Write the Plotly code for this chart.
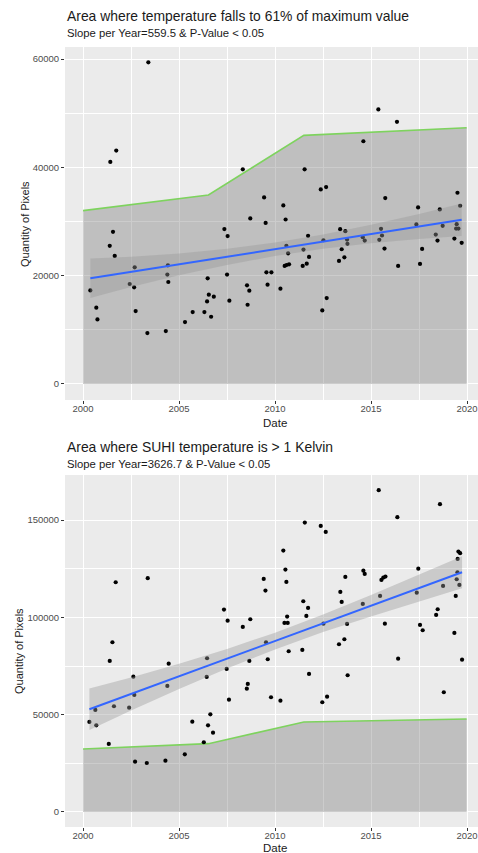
import plotly.graph_objects as go

W, H = 478, 853

# ---------------- Panel 1 data ----------------
p1_year = [2000.38, 2000.69, 2000.75, 2001.39, 2001.42, 2001.56, 2001.65, 2001.73, 2002.43, 2002.66,
           2002.69, 2002.74, 2003.35, 2003.40, 2004.31, 2004.39, 2004.44, 2004.42, 2005.31, 2005.71,
           2006.32, 2006.46, 2006.49, 2006.55, 2006.67, 2006.81, 2007.36, 2007.50, 2007.53, 2007.62,
           2008.32, 2008.54, 2008.57, 2008.66, 2008.71, 2009.43, 2009.51, 2009.55, 2009.61, 2009.81,
           2010.28, 2010.43, 2010.50, 2010.55, 2010.59, 2010.60, 2010.68, 2010.73, 2011.44, 2011.48,
           2011.54, 2011.65, 2011.72, 2011.77, 2012.38, 2012.46, 2012.52, 2012.66, 2012.69, 2013.33,
           2013.39, 2013.47, 2013.61, 2013.66, 2013.75, 2013.77, 2014.57, 2014.60, 2014.67, 2015.38,
           2015.43, 2015.52, 2015.57, 2015.70, 2015.74, 2016.35, 2016.41, 2017.36, 2017.45, 2017.55,
           2017.66, 2018.37, 2018.46, 2018.58, 2018.73, 2019.34, 2019.43, 2019.46, 2019.50, 2019.55,
           2019.64, 2019.72]
p1_pixels = [17280, 14080, 11910, 25500, 41000, 28100, 23650, 43100, 18460, 17840,
             21540, 13460, 9390, 59400, 9760, 20190, 18830, 21900, 11420, 13270,
             13270, 15240, 19500, 16480, 12410, 16110, 28600, 20190, 27300, 15370,
             39630, 18210, 14630, 17220, 30560, 34450, 29740, 20610, 18330, 20610,
             17590, 32970, 21790, 30370, 25500, 21970, 24130, 22090, 21790, 24820,
             39630, 22220, 27350, 23460, 35930, 13580, 26540, 36360, 15860, 22720,
             28580, 24870, 23390, 28210, 26670, 25870, 27100, 44820, 26480, 50690,
             26610, 28640, 27410, 25000, 34330, 48400, 21790, 29450, 32600, 22160,
             24940, 27590, 26480, 32230, 29200, 26850, 28700, 29500, 35310, 28700,
             32910, 26060]

env_year = [2000.0, 2006.53, 2011.5, 2019.98]
p1_env = [32000, 34900, 45900, 47300]

p1_fit_year = [2000.38, 2002.5, 2005, 2007.5, 2010, 2012.5, 2015, 2017.5, 2019.72]
p1_fit = [19500, 20690, 22090, 23480, 24880, 26280, 27680, 29080, 30320]
p1_upper = [23150, 23490, 24090, 24980, 26130, 27580, 29380, 31380, 33320]
p1_lower = [15850, 17890, 20090, 21980, 23630, 24980, 25980, 26780, 27320]

# ---------------- Panel 2 data ----------------
p2_year = [2000.33, 2000.64, 2000.69, 2001.34, 2001.39, 2001.53, 2001.61, 2001.70, 2002.40, 2002.62,
           2002.67, 2002.71, 2003.32, 2003.37, 2004.29, 2004.39, 2004.46, 2005.30, 2005.69, 2006.29,
           2006.44, 2006.46, 2006.51, 2006.63, 2006.77, 2007.34, 2007.48, 2007.53, 2007.60, 2008.32,
           2008.53, 2008.58, 2008.66, 2008.71, 2009.41, 2009.50, 2009.53, 2009.62, 2009.79, 2010.28,
           2010.43, 2010.49, 2010.54, 2010.59, 2010.63, 2010.66, 2010.71, 2011.42, 2011.47, 2011.55,
           2011.63, 2011.72, 2011.77, 2012.38, 2012.46, 2012.52, 2012.64, 2012.71, 2013.33, 2013.40,
           2013.47, 2013.61, 2013.66, 2013.75, 2013.78, 2014.57, 2014.60, 2014.67, 2015.40, 2015.47,
           2015.54, 2015.64, 2015.72, 2015.75, 2016.37, 2016.41, 2017.38, 2017.46, 2017.55, 2017.69,
           2018.39, 2018.47, 2018.59, 2018.75, 2018.79, 2019.34, 2019.41, 2019.46, 2019.50, 2019.51,
           2019.55, 2019.60, 2019.64, 2019.74]
p2_pixels = [46250, 52420, 44550, 34950, 77600, 87210, 54320, 118040, 53600, 69530,
             60130, 25850, 25180, 120100, 26360, 64750, 76210, 29650, 46400, 35820,
             69380, 78990, 44550, 50200, 40750, 103970, 73490, 98310, 57710, 95070,
             63370, 65780, 77600, 99030, 119740, 113730, 87210, 78470, 58940, 57200,
             134280, 97130, 124520, 118200, 100380, 97130, 82580, 83250, 108280, 148670,
             100720, 104840, 70920, 146970, 56370, 96770, 143890, 59250, 86180, 113060,
             107920, 88750, 120770, 96610, 70250, 106890, 124000, 122310, 165320, 111000,
             119230, 120410, 96770, 120930, 151450, 78780, 112700, 125030, 96100, 93370,
             101240, 104170, 158130, 116140, 61510, 91990, 111000, 119580, 123180, 130020,
             133770, 116650, 132950, 78270]

p2_env = [32400, 35100, 46200, 47800]

p2_fit_year = [2000.33, 2002.5, 2005, 2007.5, 2010, 2012.5, 2015, 2017.5, 2019.74]
p2_fit = [52770, 60640, 69710, 78770, 87840, 96910, 105980, 115040, 123160]
p2_upper = [63470, 69140, 76210, 83770, 92140, 101410, 111480, 121840, 131360]
p2_lower = [42070, 52140, 63210, 73770, 83540, 92410, 100480, 108240, 114960]

x_ticks = [2000, 2005, 2010, 2015, 2020]
p1_yticks = [0, 20000, 40000, 60000]
p2_yticks = [0, 50000, 100000, 150000]

titles = ["Area where temperature falls to 61% of maximum value",
          "Area where SUHI temperature is > 1 Kelvin"]
subtitles = ["Slope per Year=559.5 & P-Value < 0.05",
             "Slope per Year=3626.7 & P-Value < 0.05"]

FONT = "Liberation Sans, Arial, sans-serif"
PANEL_BG = "#EBEBEB"
GREEN = "#7ED35E"
BLUE = "#3366FF"

fig = go.Figure()


def add_panel(xa, ya, years, vals, env, fy, fv, up, lo):
    fig.add_trace(go.Scatter(x=env_year, y=env, mode="lines", fill="tozeroy",
                             fillcolor="rgba(120,120,120,0.38)",
                             line=dict(color=GREEN, width=1.6),
                             xaxis=xa, yaxis=ya, hoverinfo="skip"))
    fig.add_trace(go.Scatter(x=years, y=vals, mode="markers",
                             marker=dict(color="black", size=4.2),
                             xaxis=xa, yaxis=ya))
    fig.add_trace(go.Scatter(x=fy, y=lo, mode="lines", line=dict(width=0),
                             xaxis=xa, yaxis=ya, hoverinfo="skip"))
    fig.add_trace(go.Scatter(x=fy, y=up, mode="lines", line=dict(width=0),
                             fill="tonexty", fillcolor="rgba(153,153,153,0.4)",
                             xaxis=xa, yaxis=ya, hoverinfo="skip"))
    fig.add_trace(go.Scatter(x=fy, y=fv, mode="lines", line=dict(color=BLUE, width=2),
                             xaxis=xa, yaxis=ya))


add_panel("x", "y", p1_year, p1_pixels, p1_env, p1_fit_year, p1_fit, p1_upper, p1_lower)
add_panel("x2", "y2", p2_year, p2_pixels, p2_env, p2_fit_year, p2_fit, p2_upper, p2_lower)

xcommon = dict(range=[1999.06, 2020.57], tickvals=x_ticks, ticktext=[str(t) for t in x_ticks],
               showgrid=True, gridcolor="white", gridwidth=1.1,
               minor=dict(tickvals=[2002.5, 2007.5, 2012.5, 2017.5], showgrid=True,
                          gridcolor="white", gridwidth=0.5, ticklen=0),
               ticks="outside", ticklen=3, tickcolor="#333333", tickwidth=1,
               ticklabeloverflow="allow", ticklabelstandoff=-3,
               tickfont=dict(family=FONT, size=9.5, color="#4D4D4D"),
               zeroline=False, showline=False, automargin=False, domain=[65 / W, 1.0])


def ycommon(rng, ticks, minor, dom):
    return dict(range=rng, tickvals=ticks, ticktext=[str(t) for t in ticks],
                showgrid=True, gridcolor="white", gridwidth=1.1,
                minor=dict(tickvals=minor, showgrid=True, gridcolor="white", gridwidth=0.5, ticklen=0),
                ticks="outside", ticklen=3, tickcolor="#333333", tickwidth=1,
                tickfont=dict(family=FONT, size=9.5, color="#4D4D4D"),
                zeroline=False, showline=False, automargin=False, domain=dom)


fig.update_layout(
    width=W, height=H, margin=dict(l=0, r=0, t=0, b=0),
    paper_bgcolor="white", plot_bgcolor=PANEL_BG, showlegend=False,
    xaxis=dict(xcommon, anchor="y"),
    yaxis=ycommon([-2963, 62222], p1_yticks, [10000, 30000, 50000],
                  [1 - 400 / H, 1 - 47 / H]) | dict(anchor="x"),
    xaxis2=dict(xcommon, anchor="y2"),
    yaxis2=ycommon([-7710, 173130], p2_yticks, [25000, 75000, 125000],
                   [1 - 827 / H, 1 - 475 / H]) | dict(anchor="x2"),
)

ann = []
for title, sub, ty, sy in [(titles[0], subtitles[0], 16, 33), (titles[1], subtitles[1], 447, 464)]:
    ann.append(dict(text=title, x=65 / W, y=1 - ty / H, xref="paper", yref="paper",
                    xanchor="left", yanchor="middle", showarrow=False,
                    font=dict(family=FONT, size=13.9, color="#1A1A1A")))
    ann.append(dict(text=sub, x=65 / W, y=1 - sy / H, xref="paper", yref="paper",
                    xanchor="left", yanchor="middle", showarrow=False,
                    font=dict(family=FONT, size=11.3, color="#1A1A1A")))
for dy in [423, 848]:
    ann.append(dict(text="Date", x=275 / W, y=1 - dy / H, xref="paper", yref="paper",
                    xanchor="center", yanchor="middle", showarrow=False,
                    font=dict(family=FONT, size=11.5, color="#1A1A1A")))
for qx, qy in [(25, 224), (19, 651)]:
    ann.append(dict(text="Quantity of Pixels", x=qx / W, y=1 - qy / H, xref="paper", yref="paper",
                    xanchor="center", yanchor="middle", showarrow=False, textangle=-90,
                    font=dict(family=FONT, size=11, color="#1A1A1A")))
fig.update_layout(annotations=ann)

fig.write_html("out.html", config={"displayModeBar": False},
               post_script="document.body.style.margin='0';document.body.style.overflow='hidden';")
